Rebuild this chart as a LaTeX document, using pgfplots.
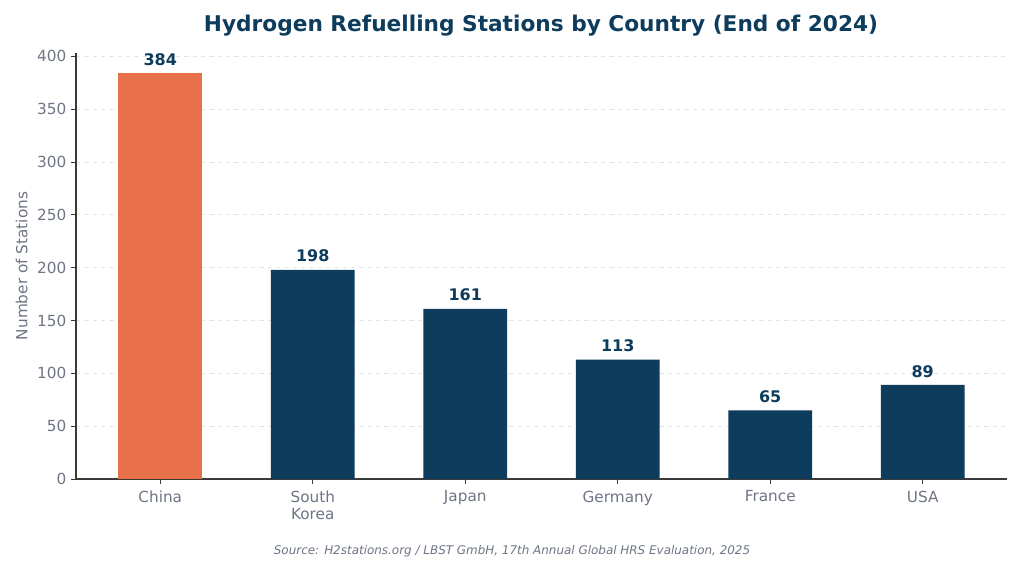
\documentclass[border=0pt]{standalone}
\usepackage{pgfplots}
\pgfplotsset{compat=1.18}
\usepackage{fontspec}
\setmainfont{DejaVu Sans}
\definecolor{navy}{HTML}{0D3C5C}
\definecolor{orng}{HTML}{E8714A}
\definecolor{tickgray}{HTML}{6E7585}
\definecolor{gridgray}{HTML}{E2E4E8}
\definecolor{spine}{HTML}{3A3A3A}
\begin{document}
\begin{tikzpicture}[x=0.72pt,y=0.72pt]
\path[fill=white] (0,0) rectangle (1024,561);
\node[font=\fontsize{15.6}{18}\selectfont\bfseries, text=navy] at (541,535) {Hydrogen Refuelling Stations by Country (End of 2024)};
\node[font=\fontsize{8.6}{10}\selectfont\itshape, text=tickgray] at (512,10) {Source: H2stations.org / LBST GmbH, 17th Annual Global HRS Evaluation, 2025};
\begin{axis}[
  at={(54.72pt,59.04pt)}, anchor=south west,
  scale only axis, width=670.32pt, height=306.72pt,
  xmin=-0.5525, xmax=5.5525, ymin=0, ymax=403.2,
  axis x line*=bottom, axis y line*=left,
  axis line style={spine, line width=0.9pt, -},
  ytick={0,50,...,400},
  xtick={0,1,2,3,4,5},
  xticklabels={China,South\\Korea,Japan,Germany,France,USA},
  xticklabel style={align=center, font=\fontsize{11}{12.5}\selectfont, text=tickgray, yshift=-1.5pt},
  yticklabel style={font=\fontsize{11}{12.5}\selectfont, text=tickgray},
  /pgf/number format/assume math mode=true,
  tick style={spine, line width=0.6pt},
  tick align=outside, major tick length=3.5pt,
  ymajorgrids, grid style={gridgray, dashed, line width=0.6pt},
  ylabel={Number of Stations},
  ylabel style={font=\fontsize{11}{12.5}\selectfont, text=tickgray},
  ybar, bar width=0.55, bar shift=0pt,
  nodes near coords,
  every node near coord/.append style={font=\fontsize{11.5}{13}\selectfont\bfseries, text=navy, yshift=2pt},
  clip=false,
]
\addplot[fill=orng, draw=none] coordinates {(0,384)};
\addplot[fill=navy, draw=none] coordinates {(1,198) (2,161) (3,113) (4,65) (5,89)};
\end{axis}
\end{tikzpicture}
\end{document}
